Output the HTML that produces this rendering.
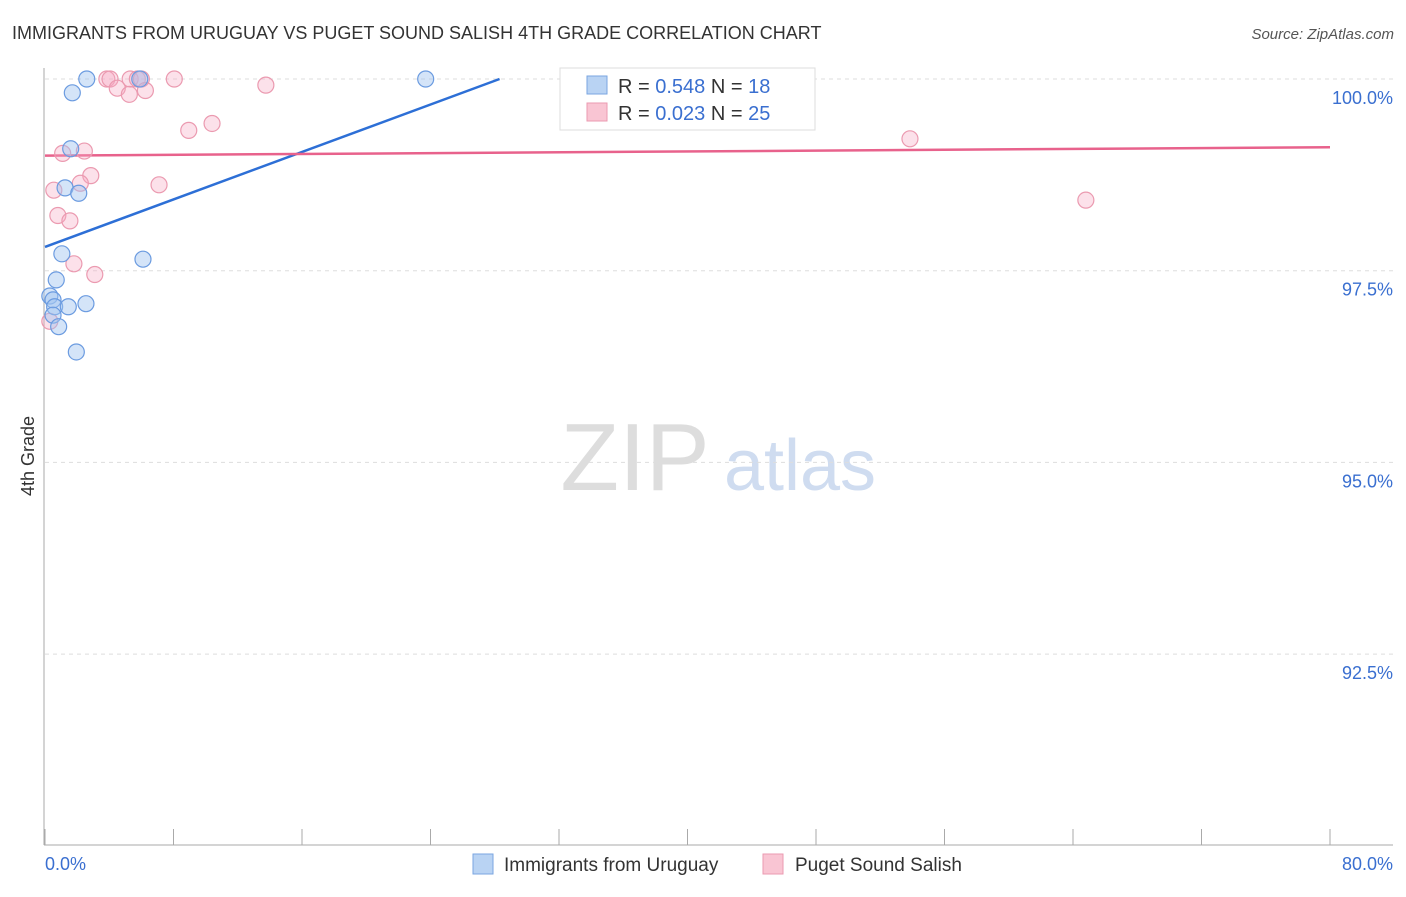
<!DOCTYPE html>
<html><head><meta charset="utf-8"><style>
body{margin:0;background:#fff;font-family:"Liberation Sans",sans-serif;}
svg text{font-family:"Liberation Sans",sans-serif;}
</style></head><body>
<svg width="1406" height="892" id="c">
<text x="12" y="39" font-size="18" fill="#333">IMMIGRANTS FROM URUGUAY VS PUGET SOUND SALISH 4TH GRADE CORRELATION CHART</text>
<text x="1394" y="39" font-size="15" fill="#555" font-style="italic" text-anchor="end">Source: ZipAtlas.com</text>
<text x="34" y="456" font-size="18" fill="#333" transform="rotate(-90 34 456)" text-anchor="middle">4th Grade</text>
<g><text x="635" y="490" font-size="96" fill="#ddd" font-family="Liberation Serif" text-anchor="middle">ZIP</text><text x="800" y="490" font-size="72" fill="#cfdcf0" text-anchor="middle">atlas</text></g>
<g id="grid"></g><g id="axes"></g><g id="lines"></g><g id="pts"></g>
<g>
<rect x="560" y="68" width="255" height="62" fill="#fff" stroke="#ddd"/>
<rect x="587" y="76" width="20" height="18" fill="#b9d3f3" stroke="#7aa6e0"/>
<text x="618" y="93" font-size="20" fill="#333">R = <tspan fill="#3a6fd0">0.548</tspan>   N = <tspan fill="#3a6fd0">18</tspan></text>
<rect x="587" y="103" width="20" height="18" fill="#f9c5d3" stroke="#eb9ab0"/>
<text x="618" y="120" font-size="20" fill="#333">R = <tspan fill="#3a6fd0">0.023</tspan>   N = <tspan fill="#3a6fd0">25</tspan></text>
</g>
<g>
<rect x="473" y="854" width="20" height="20" fill="#b9d3f3" stroke="#7aa6e0"/>
<text x="504" y="871" font-size="19" fill="#333">Immigrants from Uruguay</text>
<rect x="763" y="854" width="20" height="20" fill="#f9c5d3" stroke="#eb9ab0"/>
<text x="795" y="871" font-size="19" fill="#333">Puget Sound Salish</text>
</g>
</svg>
<script>
const blueX=[2.6,1.7,5.9,23.7,1.6,1.25,2.1,1.05,6.1,0.7,0.3,0.5,0.6,1.45,2.55,0.5,0.85,1.95];
const blueY=[100,99.82,100,100,99.09,98.58,98.51,97.72,97.65,97.38,97.17,97.12,97.03,97.03,97.07,96.92,96.77,96.44];
const pinkX=[3.85,4.05,5.3,5.75,6.0,8.05,4.5,5.25,6.25,13.75,8.95,10.4,53.85,1.1,2.45,2.85,2.2,7.1,0.55,0.8,1.55,64.8,1.8,3.1,0.3];
const pinkY=[100,100,100,100,100,100,99.88,99.80,99.85,99.92,99.33,99.42,99.22,99.03,99.06,98.74,98.64,98.62,98.55,98.22,98.15,98.42,97.59,97.45,96.84];
const blueLine=[[0,97.81],[28.3,100]];
const pinkLine=[[0,99.0],[80,99.11]];
const yTicks=[100,97.5,95,92.5];
const yTickLabels=["100.0%","97.5%","95.0%","92.5%"];
const xTicks=[0,8,16,24,32,40,48,56,64,72,80];
const NS="http://www.w3.org/2000/svg";
const sx=v=>45+v/80*1285, sy=v=>79+(100-v)/2.5*191.7;
function mk(t,a,p){const e=document.createElementNS(NS,t);for(const k in a)e.setAttribute(k,a[k]);document.getElementById(p).appendChild(e);return e;}
yTicks.forEach((t,i)=>{
 const g=mk('line',{x1:45,x2:1393,y1:sy(t),y2:sy(t),stroke:'#ddd','stroke-dasharray':'4,4'},'grid');
 
 
 const l=mk('text',{x:1393,y:sy(t)+25,'font-size':18,fill:'#3a6fd0','text-anchor':'end'},'axes');l.textContent=yTickLabels[i];
 
 
});
const ax=mk('line',{x1:44,x2:44,y1:68,y2:845,stroke:'#aaa'},'axes');


const bx=mk('line',{x1:44,x2:1393,y1:845,y2:845,stroke:'#aaa'},'axes');


xTicks.forEach(t=>{const e=mk('line',{x1:sx(t),x2:sx(t),y1:829,y2:845,stroke:'#aaa'},'axes');
 
 });
const x0=mk('text',{x:45,y:870,'font-size':18,fill:'#3a6fd0'},'axes');x0.textContent='0.0%';


const x1=mk('text',{x:1393,y:870,'font-size':18,fill:'#3a6fd0','text-anchor':'end'},'axes');x1.textContent='80.0%';


const bl=mk('line',{x1:sx(blueLine[0][0]),y1:sy(blueLine[0][1]),x2:sx(blueLine[1][0]),y2:sy(blueLine[1][1]),stroke:'#2d6fd6','stroke-width':2.5},'lines');


const pl=mk('line',{x1:sx(pinkLine[0][0]),y1:sy(pinkLine[0][1]),x2:sx(pinkLine[1][0]),y2:sy(pinkLine[1][1]),stroke:'#e8628c','stroke-width':2.5},'lines');


pinkX.forEach((x,i)=>{const c=mk('circle',{cx:sx(x),cy:sy(pinkY[i]),r:8,fill:'rgba(246,170,195,0.35)',stroke:'#eb9ab0','stroke-width':1.2},'pts');
 
 });
blueX.forEach((x,i)=>{const c=mk('circle',{cx:sx(x),cy:sy(blueY[i]),r:8,fill:'rgba(160,195,240,0.45)',stroke:'#6b9be0','stroke-width':1.2},'pts');
 
 });
</script>
</body></html>
